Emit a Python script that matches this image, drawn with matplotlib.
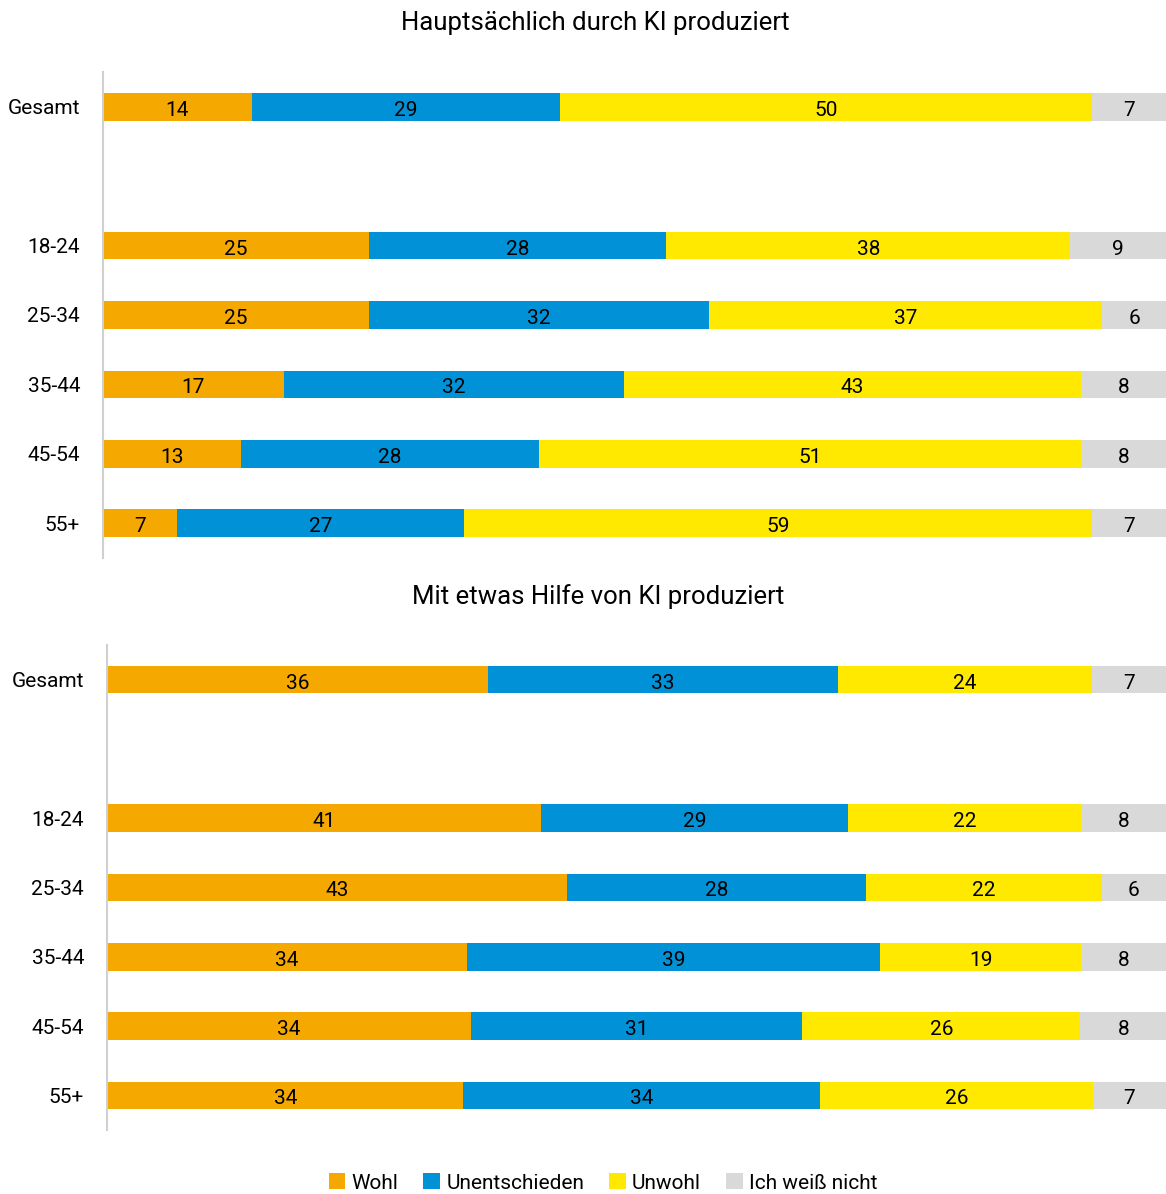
from matplotlib import pyplot as plt
import numpy as np

plt.rcParams['font.family'] = ['Roboto', 'DejaVu Sans']

# Kategorien (Zeilen) und Positionen
gruppen = ['Gesamt', '18-24', '25-34', '35-44', '45-54', '55+']
positionen = [0, 2, 3, 4, 5, 6]

antworten = ['Wohl', 'Unentschieden', 'Unwohl', 'Ich weiß nicht']
farben = ['#F5A800', '#0091D7', '#FFE900', '#D9D9D9']

# Hauptsächlich durch KI produziert
ki_wohl = [14, 25, 25, 17, 13, 7]
ki_unentschieden = [29, 28, 32, 32, 28, 27]
ki_unwohl = [50, 38, 37, 43, 51, 59]
ki_weiss_nicht = [7, 9, 6, 8, 8, 7]

# Mit etwas Hilfe von KI produziert
hilfe_wohl = [36, 41, 43, 34, 34, 34]
hilfe_unentschieden = [33, 29, 28, 39, 31, 34]
hilfe_unwohl = [24, 22, 22, 19, 26, 26]
hilfe_weiss_nicht = [7, 8, 6, 8, 8, 7]

titel = ['Hauptsächlich durch KI produziert', 'Mit etwas Hilfe von KI produziert']

fig = plt.figure(figsize=(11.66, 11.94), dpi=100)

W, H = 1166, 1194
ax_oben = fig.add_axes([103 / W, 1 - 558 / H, 1063 / W, 486 / H])
ax_unten = fig.add_axes([107 / W, 1 - 1130 / H, 1059 / W, 485 / H])


def zeichne(ax, serien):
    werte = np.array(serien, dtype=float)
    summe = werte.sum(axis=0)
    anteile = werte / summe * 100
    links = np.zeros(len(gruppen))
    for i, name in enumerate(antworten):
        ax.barh(positionen, anteile[i], left=links, height=0.4,
                color=farben[i], label=name)
        for y, l, b, v in zip(positionen, links, anteile[i], werte[i]):
            ax.annotate(str(int(v)), (l + b / 2, y), xytext=(0, -2.5),
                        textcoords='offset points', ha='center', va='center',
                        fontsize=15, color='black')
        links += anteile[i]
    ax.set_xlim(0, 100)
    ax.set_ylim(6.5, -0.5)
    ax.set_yticks(positionen)
    ax.set_yticklabels(gruppen, fontsize=15)
    ax.tick_params(axis='y', length=0, pad=16.5)
    ax.set_xticks([])
    for s in ['top', 'right', 'bottom']:
        ax.spines[s].set_visible(False)
    ax.spines['left'].set_color('#D0D0D0')
    ax.spines['left'].set_linewidth(1.5)


zeichne(ax_oben, [ki_wohl, ki_unentschieden, ki_unwohl, ki_weiss_nicht])
zeichne(ax_unten, [hilfe_wohl, hilfe_unentschieden, hilfe_unwohl, hilfe_weiss_nicht])

fig.text(595 / W, 1 - 23 / H, titel[0], ha='center', va='center', fontsize=18.5)
fig.text(598 / W, 1 - 597 / H, titel[1], ha='center', va='center', fontsize=18.5)

handles, labels = ax_oben.get_legend_handles_labels()
fig.legend(handles, labels, loc='center', bbox_to_anchor=(603 / W, 1 - 1183 / H),
           ncol=4, frameon=False, fontsize=15, handlelength=0.8, handleheight=0.8,
           handletextpad=0.3, columnspacing=1.2)

plt.savefig('out.png', dpi=100)
